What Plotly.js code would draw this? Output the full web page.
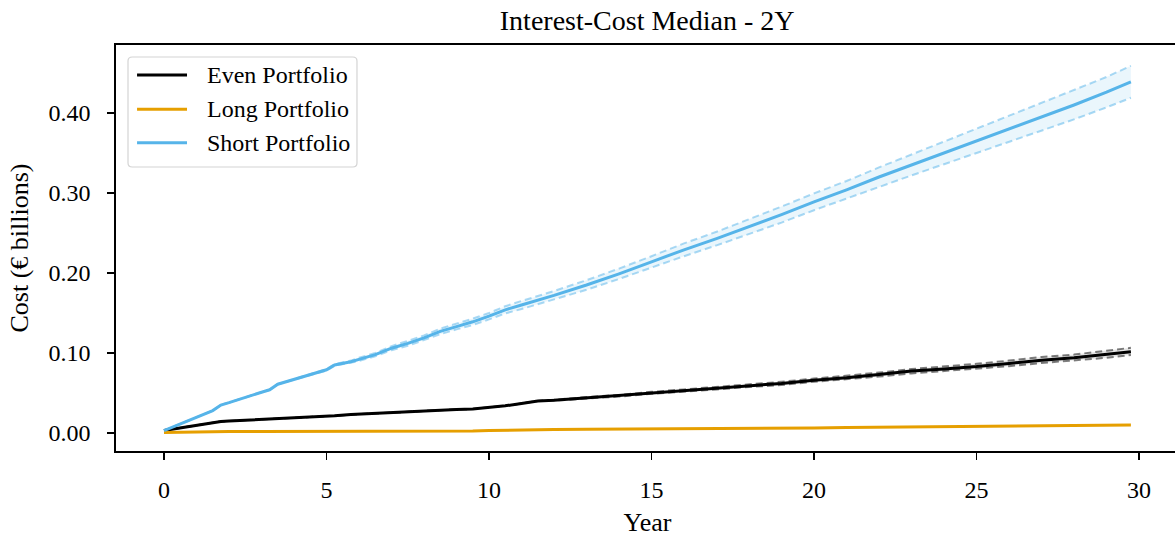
<!DOCTYPE html>
<html>
<head>
<meta charset="utf-8">
<script src="https://cdn.plot.ly/plotly-3.0.1.min.js"></script>
<style>
  html, body { margin: 0; padding: 0; overflow: hidden; background: #fff; }
  #chart { width: 1182px; height: 537px; }
</style>
</head>
<body>
<div id="chart"></div>
<script>
// Simulation years (quarterly grid, sampled)
const years = [0, 0.5, 1, 1.5, 1.75, 2, 3, 3.25, 3.5, 4, 4.5, 5, 5.25, 5.75, 6, 6.5, 7, 7.5, 8, 8.5, 9, 9.5, 10, 10.5, 11, 11.5, 12, 13, 14, 15, 16, 17, 18, 19, 20, 21, 22, 23, 24, 25, 26, 27, 28, 29, 29.75];

// Even portfolio: median and percentile band (€ billions)
const evenMedian = [0.003, 0.0063, 0.0096, 0.0129, 0.0145, 0.015, 0.017, 0.0175, 0.018, 0.0185, 0.0195, 0.021, 0.0215, 0.023, 0.0235, 0.025, 0.026, 0.027, 0.028, 0.029, 0.0295, 0.030, 0.032, 0.034, 0.037, 0.040, 0.041, 0.044, 0.0465, 0.050, 0.053, 0.056, 0.059, 0.062, 0.066, 0.069, 0.073, 0.0775, 0.080, 0.083, 0.087, 0.091, 0.094, 0.098, 0.1015];
const evenUpper  = [0.003, 0.0063, 0.0096, 0.0129, 0.0145, 0.015, 0.017, 0.0175, 0.018, 0.0185, 0.0195, 0.021, 0.0215, 0.023, 0.0235, 0.025, 0.026, 0.027, 0.028, 0.029, 0.0295, 0.030, 0.032, 0.034, 0.037, 0.040, 0.0415, 0.045, 0.0475, 0.0515, 0.0545, 0.0575, 0.061, 0.064, 0.068, 0.0715, 0.0755, 0.080, 0.083, 0.0865, 0.0905, 0.095, 0.098, 0.1025, 0.1065];
const evenLower  = [0.003, 0.0063, 0.0096, 0.0129, 0.0145, 0.015, 0.017, 0.0175, 0.018, 0.0185, 0.0195, 0.021, 0.0215, 0.023, 0.0235, 0.025, 0.026, 0.027, 0.028, 0.029, 0.0295, 0.030, 0.032, 0.034, 0.037, 0.040, 0.0405, 0.043, 0.0455, 0.049, 0.0515, 0.0545, 0.0575, 0.060, 0.064, 0.067, 0.0705, 0.0745, 0.0775, 0.080, 0.0835, 0.0875, 0.0905, 0.094, 0.0975];

// Long portfolio: median (€ billions)
const longMedian = [0.0005, 0.001, 0.0015, 0.002, 0.002, 0.002, 0.002, 0.002, 0.002, 0.002, 0.002, 0.002, 0.002, 0.0022, 0.0022, 0.0022, 0.0023, 0.0023, 0.0023, 0.0024, 0.0024, 0.0025, 0.003, 0.0035, 0.004, 0.0045, 0.0045, 0.0047, 0.0048, 0.005, 0.0052, 0.0054, 0.0055, 0.0056, 0.0062, 0.007, 0.0073, 0.0076, 0.0079, 0.0082, 0.0086, 0.0089, 0.0092, 0.0096, 0.0099];

// Short portfolio: median and percentile band (€ billions)
const shortMedian = [0.003, 0.011, 0.019, 0.028, 0.035, 0.038, 0.051, 0.054, 0.061, 0.067, 0.073, 0.079, 0.085, 0.089, 0.092, 0.098, 0.106, 0.112, 0.119, 0.127, 0.133, 0.139, 0.146, 0.154, 0.160, 0.166, 0.172, 0.185, 0.199, 0.214, 0.229, 0.243, 0.258, 0.273, 0.289, 0.304, 0.320, 0.335, 0.350, 0.365, 0.380, 0.395, 0.410, 0.426, 0.439];
const shortUpper  = [0.003, 0.011, 0.019, 0.028, 0.035, 0.038, 0.051, 0.054, 0.061, 0.0675, 0.0735, 0.080, 0.086, 0.0905, 0.094, 0.100, 0.1085, 0.115, 0.122, 0.1305, 0.1365, 0.143, 0.150, 0.1585, 0.165, 0.171, 0.1775, 0.191, 0.2055, 0.221, 0.237, 0.2515, 0.267, 0.283, 0.2995, 0.315, 0.332, 0.348, 0.364, 0.380, 0.396, 0.412, 0.428, 0.445, 0.459];
const shortLower  = [0.003, 0.011, 0.019, 0.028, 0.035, 0.038, 0.051, 0.054, 0.061, 0.0665, 0.0725, 0.078, 0.084, 0.0875, 0.090, 0.096, 0.1035, 0.109, 0.116, 0.1235, 0.1295, 0.135, 0.142, 0.1495, 0.155, 0.161, 0.1665, 0.179, 0.1925, 0.207, 0.221, 0.2345, 0.249, 0.263, 0.2785, 0.293, 0.308, 0.322, 0.336, 0.350, 0.364, 0.378, 0.392, 0.407, 0.419];

const seriesNames = ['Even Portfolio', 'Long Portfolio', 'Short Portfolio'];
const seriesColors = ['#000000', '#E69F00', '#56B4E9'];

const xTicks = [0, 5, 10, 15, 20, 25, 30];
const yTicks = [0, 0.1, 0.2, 0.3, 0.4];
const yTickText = ['0.00', '0.10', '0.20', '0.30', '0.40'];

const FONT = 'Liberation Serif, Times New Roman, serif';

function band(upper, lower, lineColor, fillColor) {
  return [
    { x: years, y: upper, mode: 'lines', showlegend: false, hoverinfo: 'skip',
      line: { color: lineColor, width: 2, dash: '7px,4px' } },
    { x: years, y: lower, mode: 'lines', showlegend: false, hoverinfo: 'skip',
      fill: 'tonexty', fillcolor: fillColor,
      line: { color: lineColor, width: 2, dash: '7px,4px' } }
  ];
}

const medians = [evenMedian, longMedian, shortMedian];

const traces = [
  ...band(shortUpper, shortLower, 'rgba(86,180,233,0.5)', 'rgba(86,180,233,0.12)'),
  ...band(evenUpper, evenLower, 'rgba(0,0,0,0.5)', 'rgba(0,0,0,0.1)'),
  ...medians.map((m, i) => ({
    x: years, y: m, mode: 'lines', name: seriesNames[i], showlegend: false,
    line: { color: seriesColors[i], width: 3 }
  }))
];

// Legend box, drawn in paper coordinates (rounded frame, line keys, labels)
const box = { x0: 0.0113, x1: 0.2267, y0: 0.6995, y1: 0.9704, rx: 0.004, ry: 0.0099 };
const framePath =
  `M${box.x0 + box.rx},${box.y1} L${box.x1 - box.rx},${box.y1} Q${box.x1},${box.y1} ${box.x1},${box.y1 - box.ry} ` +
  `L${box.x1},${box.y0 + box.ry} Q${box.x1},${box.y0} ${box.x1 - box.rx},${box.y0} ` +
  `L${box.x0 + box.rx},${box.y0} Q${box.x0},${box.y0} ${box.x0},${box.y0 + box.ry} ` +
  `L${box.x0},${box.y1 - box.ry} Q${box.x0},${box.y1} ${box.x0 + box.rx},${box.y1} Z`;
const rowY = [0.9261, 0.8416, 0.7594];
const keyX0 = 0.0198, keyX1 = 0.0668, labelX = 0.0837;

const shapes = [
  { type: 'path', xref: 'paper', yref: 'paper', path: framePath, layer: 'above',
    fillcolor: 'rgba(255,255,255,0.85)', line: { color: '#d4d4d4', width: 1.2 } },
  ...seriesNames.map((_, i) => ({
    type: 'line', xref: 'paper', yref: 'paper', layer: 'above',
    x0: keyX0, x1: keyX1, y0: rowY[i], y1: rowY[i],
    line: { color: seriesColors[i], width: 3 }
  }))
];
const annotations = seriesNames.map((name, i) => ({
  xref: 'paper', yref: 'paper', x: labelX, y: rowY[i], xanchor: 'left', yanchor: 'middle',
  text: name, showarrow: false, font: { family: FONT, size: 24, color: '#000' }
}));

const layout = {
  width: 1182, height: 537,
  margin: { l: 116, r: 3, t: 45, b: 86 },
  paper_bgcolor: '#ffffff', plot_bgcolor: '#ffffff',
  font: { family: FONT, color: '#000', size: 24 },
  title: { text: 'Interest-Cost Median - 2Y', font: { family: FONT, size: 28, color: '#000' },
           x: 0.5475, xanchor: 'center', y: 0.962, yanchor: 'middle' },
  xaxis: {
    range: [-1.477, 31.23], tickvals: xTicks, ticks: 'outside', ticklen: 7, tickwidth: 1.3,
    tickcolor: '#000', showgrid: false, zeroline: false, showline: true, mirror: true,
    linecolor: '#000', linewidth: 1.6, ticklabelstandoff: 10,
    tickfont: { family: FONT, size: 24 },
    title: { text: 'Year', font: { family: FONT, size: 26 }, standoff: 10 }
  },
  yaxis: {
    range: [-0.0225, 0.485], tickvals: yTicks, ticktext: yTickText, ticks: 'outside', ticklen: 7,
    tickwidth: 1.3, tickcolor: '#000', showgrid: false, zeroline: false, showline: true,
    mirror: true, linecolor: '#000', linewidth: 1.6, ticklabelstandoff: 12,
    tickfont: { family: FONT, size: 24 },
    title: { text: 'Cost (€ billions)', font: { family: FONT, size: 26 }, standoff: 12 }
  },
  shapes: shapes,
  annotations: annotations,
  showlegend: false
};

Plotly.newPlot('chart', traces, layout, { displayModeBar: false, staticPlot: true });
</script>
</body>
</html>
